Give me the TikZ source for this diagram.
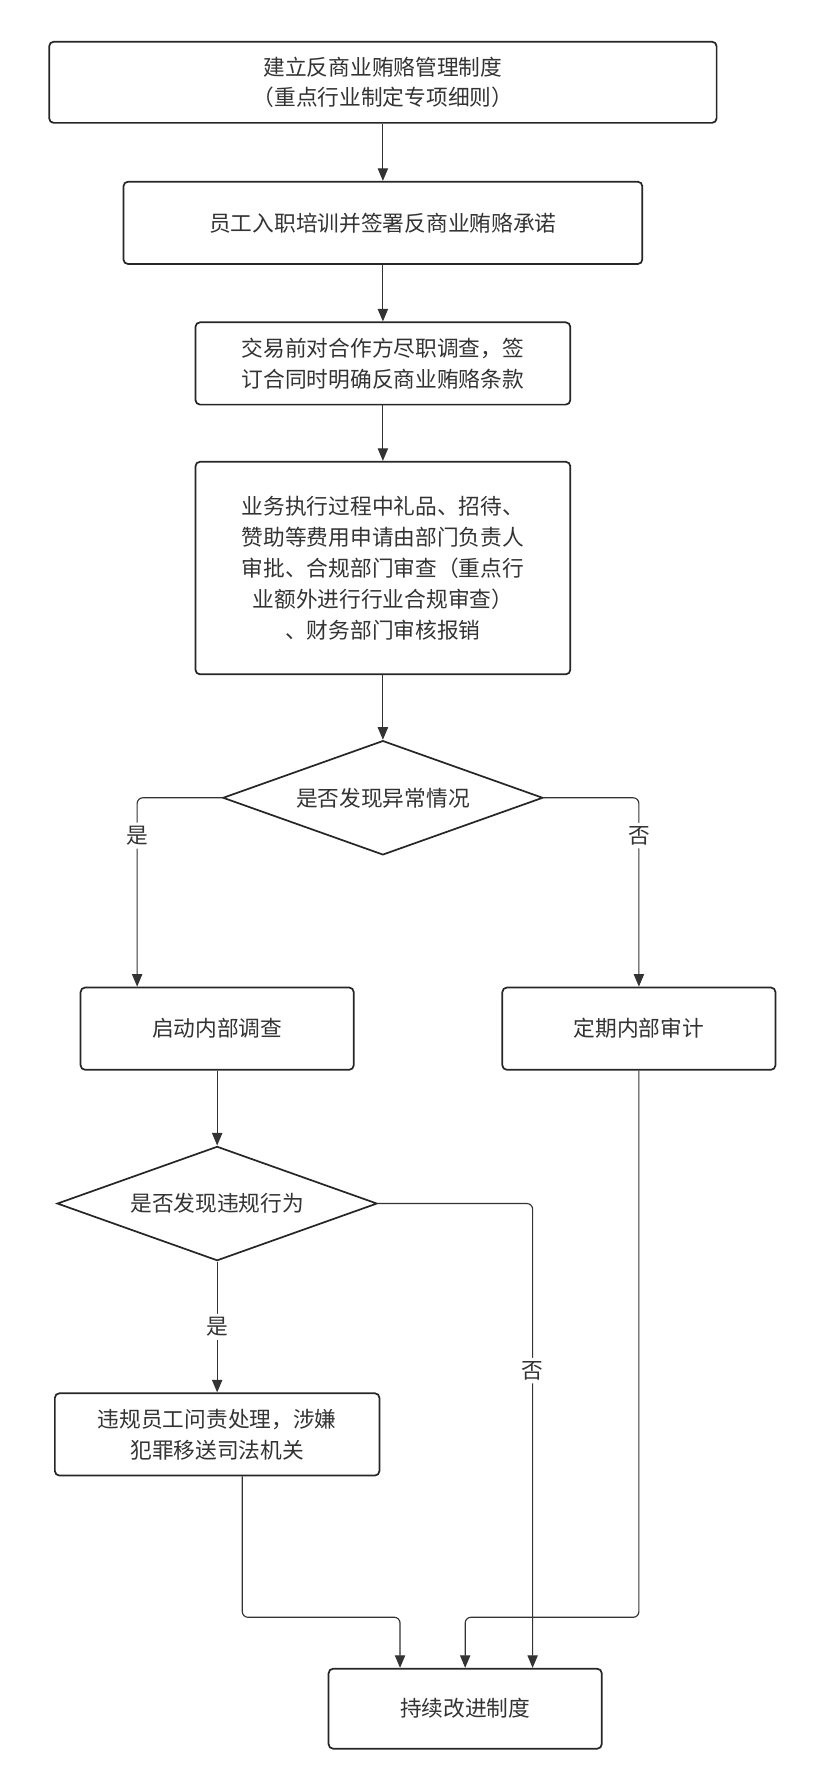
\documentclass[tikz,border=0pt]{standalone}
\usepackage{fontspec}
\setmainfont{Noto Sans CJK SC}
\usetikzlibrary{shapes.geometric,arrows.meta}
\begin{document}
\begin{tikzpicture}
[every node/.style={inner sep=0pt, font=\fontsize{19pt}{27pt}\selectfont, text=black!80},
 box/.style={rectangle, rounded corners=4pt, line width=1.5pt, draw=black!85, align=center},
 dia/.style={diamond, aspect=2.8, line width=1.5pt, draw=black!85},
 edge/.style={line width=1pt, draw=black!80, -{Triangle[length=11pt,width=9pt]}, rounded corners=5pt},
 lab/.style={fill=white, inner sep=3pt}]
\useasboundingbox (0pt,0pt) rectangle (722pt,-1567pt);
\node (s1) [box, minimum width=584pt, minimum height=71pt] at (335pt, -72pt) {建立反商业贿赂管理制度\\（重点行业制定专项细则）};
\node (s2) [box, minimum width=454pt, minimum height=72pt] at (335pt, -195pt) {员工入职培训并签署反商业贿赂承诺};
\node (s3) [box, minimum width=328pt, minimum height=72pt] at (335pt, -318pt) {交易前对合作方尽职调查，签\\订合同时明确反商业贿赂条款};
\node (s4) [box, minimum width=328pt, minimum height=186pt] at (335pt, -497pt) {业务执行过程中礼品、招待、\\赞助等费用申请由部门负责人\\审批、合规部门审查（重点行\\业额外进行行业合规审查）\\、财务部门审核报销};
\node (q1) [dia, minimum width=280pt, minimum height=100pt] at (335pt, -698pt) {是否发现异常情况};
\node (inv) [box, minimum width=239pt, minimum height=72pt] at (190pt, -900pt) {启动内部调查};
\node (aud) [box, minimum width=239pt, minimum height=72pt] at (559pt, -900pt) {定期内部审计};
\node (q2) [dia, minimum width=280pt, minimum height=100pt] at (190pt, -1053pt) {是否发现违规行为};
\node (pun) [box, minimum width=284pt, minimum height=72pt] at (190pt, -1255pt) {违规员工问责处理，涉嫌\\犯罪移送司法机关};
\node (imp) [box, minimum width=239pt, minimum height=70pt] at (407pt, -1495pt) {持续改进制度};
\coordinate (c1) at (120pt, -698pt);
\coordinate (c2) at (559pt, -698pt);
\coordinate (c3) at (466pt, -1053pt);
\coordinate (c4) at (212pt, -1415pt);
\coordinate (c5) at (350pt, -1415pt);
\coordinate (c6) at (559pt, -1415pt);
\coordinate (c7) at (407pt, -1415pt);
\draw [edge] (s1) -- (s2);
\draw [edge] (s2) -- (s3);
\draw [edge] (s3) -- (s4);
\draw [edge] (s4) -- (q1);
\draw [edge] (q1.west) -- (c1) -- (c1 |- inv.north) node [lab, pos=0.2] {是};
\draw [edge] (q1.east) -- (c2) -- (aud.north) node [lab, pos=0.2] {否};
\draw [edge] (inv) -- (q2);
\draw [edge] (q2) -- (pun) node [lab, midway] {是};
\draw [edge] (q2.east) -- (c3) -- (c3 |- imp.north) node [lab, pos=0.36] {否};
\draw [edge] (c4 |- pun.south) -- (c4) -- (c5) -- (c5 |- imp.north);
\draw [edge] (aud.south) -- (c6) -- (c7) -- (imp.north);
\end{tikzpicture}
\end{document}
